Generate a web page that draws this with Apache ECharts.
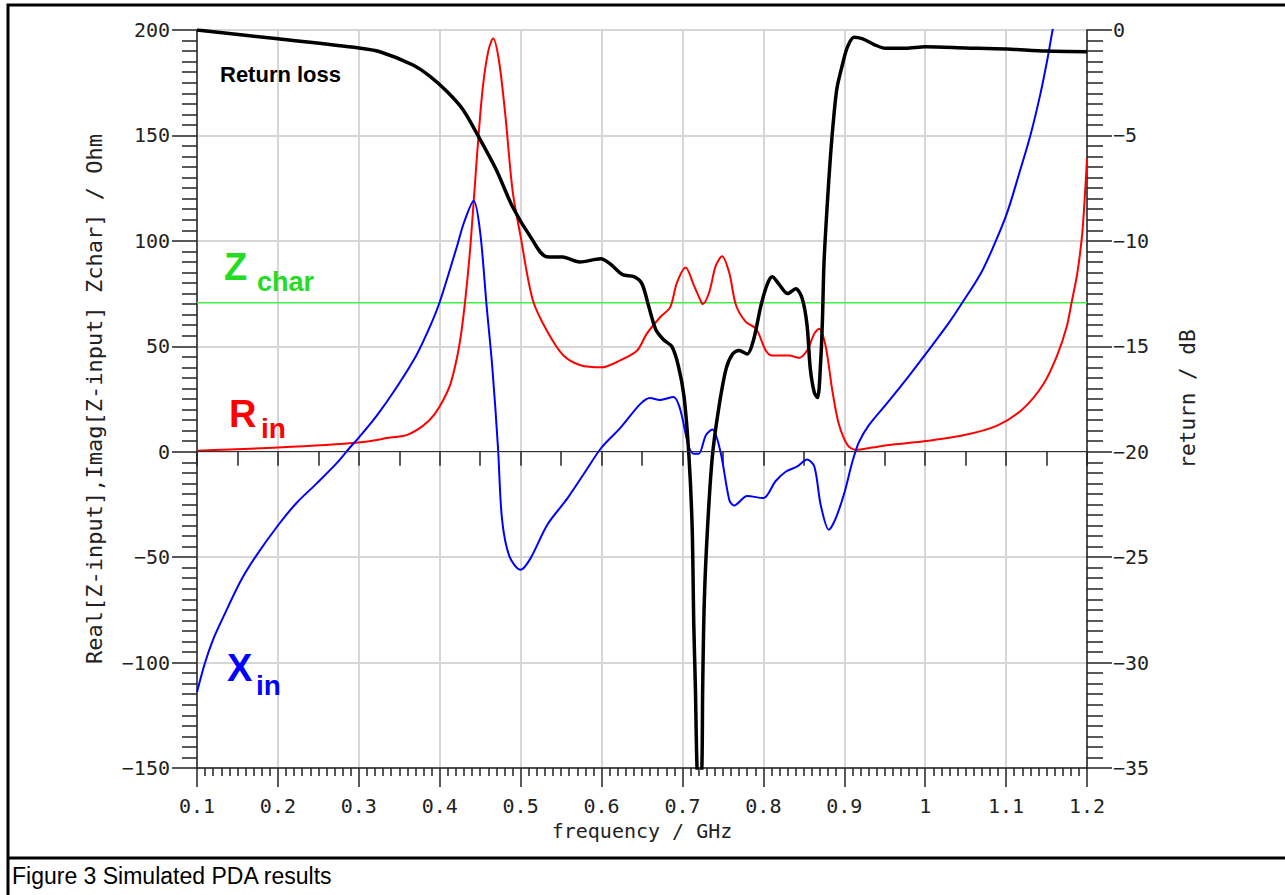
<!DOCTYPE html>
<html>
<head>
<meta charset="utf-8">
<title>Simulated PDA results</title>
<script src="https://cdn.jsdelivr.net/npm/echarts@6/dist/echarts.min.js"></script>
<style>
  html, body { margin: 0; padding: 0; background: #fff; }
  #chart { width: 1285px; height: 895px; }
</style>
</head>
<body>
<div id="chart"></div>
<script>
// characteristic impedance line (Ohm)
const ZCHAR = 70.7

// Xin: imaginary part of input impedance (Ohm), left axis
const xinFreq = [0.1, 0.11, 0.12, 0.133, 0.153, 0.172, 0.2, 0.223, 0.248, 0.273, 0.289, 0.3, 0.322, 0.347, 0.371, 0.388, 0.4, 0.421, 0.43, 0.442, 0.45, 0.458, 0.465, 0.472, 0.477, 0.486, 0.5, 0.512, 0.533, 0.558, 0.578, 0.6, 0.623, 0.648, 0.66, 0.672, 0.689, 0.697, 0.708, 0.714, 0.72, 0.729, 0.737, 0.747, 0.758, 0.764, 0.78, 0.8, 0.815, 0.828, 0.842, 0.854, 0.863, 0.871, 0.881, 0.889, 0.9, 0.91, 0.918, 0.93, 0.955, 0.98, 1.0, 1.029, 1.043, 1.068, 1.084, 1.101, 1.117, 1.13, 1.142, 1.151, 1.157, 1.165]
const xinOhm = [-114, -100, -89, -78, -62, -50, -35, -24.3, -15, -5.3, 2, 6.7, 17, 30.7, 45.6, 59.4, 71, 97, 108.7, 119, 104, 69, 40, 2, -32, -49.5, -56, -50.7, -34.6, -22, -10.6, 2, 11.2, 22.7, 25.5, 24.5, 26, 20.4, 2, -1, -1, 7.8, 10.5, 0, -23, -25.5, -21, -22, -14, -9.4, -7, -3.7, -7, -25.5, -37, -32, -19.7, -4.8, 4.4, 12.4, 24, 36, 46, 61, 69, 84, 97, 113, 133, 150, 169, 186, 199, 215]

// Rin: real part of input impedance (Ohm), left axis
const rinFreq = [0.1, 0.2, 0.3, 0.339, 0.36, 0.38, 0.393, 0.405, 0.414, 0.424, 0.431, 0.438, 0.446, 0.453, 0.46, 0.466, 0.473, 0.481, 0.49, 0.5, 0.515, 0.533, 0.553, 0.574, 0.6, 0.623, 0.644, 0.656, 0.673, 0.685, 0.693, 0.704, 0.714, 0.722, 0.725, 0.733, 0.741, 0.749, 0.758, 0.766, 0.778, 0.791, 0.803, 0.811, 0.832, 0.844, 0.854, 0.863, 0.869, 0.877, 0.885, 0.893, 0.904, 0.914, 0.935, 0.955, 0.996, 1.047, 1.089, 1.121, 1.146, 1.163, 1.175, 1.181, 1.188, 1.194, 1.197, 1.2]
const rinOhm = [0.5, 2, 4.4, 6.7, 8, 12.5, 17.5, 25, 33, 50, 70, 98, 140, 172, 190, 196, 186, 160, 124, 102, 72, 57, 45.6, 41, 40, 43.3, 48, 56, 64, 68.6, 80, 87.4, 79, 72, 70, 75.5, 88, 92.7, 84.6, 69.7, 61.7, 58.3, 48, 45.6, 45.6, 44.5, 48, 56, 58.3, 50, 29.6, 13.5, 3.2, 0.9, 2, 3.2, 4.8, 7.8, 12.4, 20.4, 32, 45.6, 59.4, 70.9, 84.6, 103, 119, 139]

// return loss (dB), right axis
const rlFreq = [0.1, 0.2, 0.3, 0.326, 0.367, 0.388, 0.409, 0.429, 0.45, 0.47, 0.49, 0.512, 0.532, 0.552, 0.573, 0.599, 0.611, 0.626, 0.64, 0.65, 0.658, 0.667, 0.677, 0.687, 0.695, 0.702, 0.708, 0.712, 0.714, 0.716, 0.718, 0.721, 0.724, 0.725, 0.727, 0.731, 0.737, 0.745, 0.754, 0.762, 0.77, 0.78, 0.788, 0.797, 0.805, 0.811, 0.819, 0.83, 0.84, 0.848, 0.854, 0.858, 0.863, 0.867, 0.871, 0.873, 0.875, 0.879, 0.883, 0.887, 0.891, 0.898, 0.904, 0.912, 0.922, 0.937, 0.951, 0.976, 1.0, 1.05, 1.1, 1.15, 1.2]
const rlDb = [0, -0.42, -0.85, -1.03, -1.66, -2.2, -2.92, -3.79, -5.2, -6.64, -8.38, -9.8, -10.75, -10.77, -11.0, -10.85, -11.1, -11.6, -11.7, -12.04, -13.07, -14.2, -14.7, -15.02, -15.94, -17.4, -20.2, -23.6, -28.2, -31.2, -35, -37, -35, -31.2, -27.1, -23.6, -20.2, -17.9, -16.06, -15.37, -15.2, -15.37, -14.68, -13.07, -12.04, -11.7, -12.04, -12.5, -12.27, -12.73, -14, -16.06, -17.2, -17.43, -15.6, -13.76, -11, -8.26, -5.96, -4.13, -2.75, -1.6, -0.8, -0.34, -0.41, -0.69, -0.87, -0.87, -0.8, -0.85, -0.9, -1.0, -1.03]

const zip = (xs, ys) => xs.map((x, i) => [x, ys[i]])

const monoFont = 'DejaVu Sans Mono'
const axisTextColor = '#222'
// reference draws a long minus sign
const fmtNum = v => String(v).replace('-', '\u2212')

const chart = echarts.init(document.getElementById('chart'), null, { renderer: 'svg' })

chart.setOption({
  animation: false,
  backgroundColor: '#fff',
  grid: {
    left: 197, right: 198, top: 30, bottom: 127,
    show: true, borderColor: '#222', borderWidth: 1,
  },
  xAxis: [
    {
      type: 'value', position: 'bottom',
      min: 0.1, max: 1.2, interval: 0.1,
      name: 'frequency / GHz', nameLocation: 'middle', nameGap: 48,
      nameTextStyle: { fontFamily: monoFont, fontSize: 20, color: axisTextColor },
      axisLine: { onZero: false, lineStyle: { color: '#222', width: 1.5 } },
      axisTick: { length: 19, lineStyle: { color: '#222', width: 1.5 } },
      minorTick: { show: true, splitNumber: 10, length: 8, lineStyle: { color: '#222', width: 1.5 } },
      axisLabel: {
        margin: 28, fontFamily: monoFont, fontSize: 20, color: axisTextColor,
        formatter: v => String(Math.round(v * 10) / 10),
      },
      splitLine: { lineStyle: { color: '#d6d6d6', width: 2 } },
    },
    {
      // half-interval ticks (0.05 GHz), drawn over the main axis
      type: 'value', position: 'bottom',
      min: 0.1, max: 1.2, interval: 0.05,
      axisLine: { show: false },
      axisTick: { length: 14, lineStyle: { color: '#222', width: 1.5 } },
      axisLabel: { show: false },
      splitLine: { show: false },
    },
  ],
  yAxis: [
    {
      type: 'value', position: 'left',
      min: -150, max: 200, interval: 50,
      name: 'Real[Z-input],Imag[Z-input] Zchar] / Ohm',
      nameLocation: 'middle', nameGap: 92,
      nameTextStyle: { fontFamily: monoFont, fontSize: 22, color: axisTextColor },
      axisLine: { onZero: false, lineStyle: { color: '#222', width: 1.5 } },
      axisTick: { length: 25, lineStyle: { color: '#222', width: 1.5 } },
      minorTick: { show: true, splitNumber: 10, length: 15, lineStyle: { color: '#222', width: 1.5 } },
      axisLabel: { margin: 27, fontFamily: monoFont, fontSize: 20, color: axisTextColor, formatter: fmtNum },
      splitLine: { lineStyle: { color: '#d6d6d6', width: 2 } },
    },
    {
      type: 'value', position: 'right',
      min: -35, max: 0, interval: 5,
      name: 'return / dB', nameLocation: 'middle', nameGap: 90,
      nameTextStyle: { fontFamily: monoFont, fontSize: 21, color: axisTextColor },
      axisLine: { onZero: false, lineStyle: { color: '#222', width: 1.5 } },
      axisTick: { length: 25, lineStyle: { color: '#222', width: 1.5 } },
      minorTick: { show: true, splitNumber: 10, length: 16, lineStyle: { color: '#222', width: 1.5 } },
      axisLabel: { margin: 26, fontFamily: monoFont, fontSize: 20, color: axisTextColor, formatter: fmtNum },
      splitLine: { show: false },
    },
  ],
  series: [
    {
      name: 'Zchar',
      type: 'line',
      xAxisIndex: 0, yAxisIndex: 0,
      data: [[0.1, ZCHAR], [1.2, ZCHAR]],
      symbol: 'none',
      lineStyle: { color: '#44ee44', width: 1.5 },
      markLine: {
        silent: true, symbol: 'none', label: { show: false },
        lineStyle: { color: '#333', width: 1, type: 'solid' },
        data: [{ yAxis: 0 }],
      },
      z: 2,
    },
    {
      name: 'Rin',
      type: 'line',
      xAxisIndex: 0, yAxisIndex: 0,
      data: zip(rinFreq, rinOhm),
      symbol: 'none', smooth: 0.3,
      lineStyle: { color: '#ff0000', width: 2 },
      z: 3,
    },
    {
      name: 'Xin',
      type: 'line',
      xAxisIndex: 0, yAxisIndex: 0,
      data: zip(xinFreq, xinOhm),
      symbol: 'none', smooth: 0.3,
      lineStyle: { color: '#0000ff', width: 2 },
      z: 3,
    },
    {
      name: 'Return loss',
      type: 'line',
      xAxisIndex: 0, yAxisIndex: 1,
      data: zip(rlFreq, rlDb),
      symbol: 'none', smooth: 0.3,
      lineStyle: { color: '#000', width: 3.5 },
      z: 4,
    },
  ],
  graphic: [
    // figure frame and caption box
    { type: 'rect', shape: { x: 8, y: 5, width: 1290, height: 900 }, style: { fill: 'none', stroke: '#000', lineWidth: 3 }, silent: true },
    { type: 'line', shape: { x1: 8, y1: 858, x2: 1290, y2: 858 }, style: { stroke: '#000', lineWidth: 3 }, silent: true },
    { type: 'text', style: { text: 'Figure 3 Simulated PDA results', x: 12, y: 876, font: '23px "Liberation Sans", Arial', fill: '#000', textVerticalAlign: 'middle' } },
    // curve labels
    { type: 'text', z: 10, style: { text: 'Return loss', x: 220, y: 74, font: 'bold 22px "Liberation Sans", Arial', fill: '#000', textVerticalAlign: 'middle' } },
    { type: 'text', z: 10, style: { text: 'Z', x: 224, y: 267, font: 'bold 38px "Liberation Sans", Arial', fill: '#22dd22', textVerticalAlign: 'middle' } },
    { type: 'text', z: 10, style: { text: 'char', x: 257, y: 282, font: 'bold 27px "Liberation Sans", Arial', fill: '#22dd22', textVerticalAlign: 'middle' } },
    { type: 'text', z: 10, style: { text: 'R', x: 229, y: 414, font: 'bold 38px "Liberation Sans", Arial', fill: '#ff0000', textVerticalAlign: 'middle' } },
    { type: 'text', z: 10, style: { text: 'in', x: 261, y: 428, font: 'bold 28px "Liberation Sans", Arial', fill: '#ff0000', textVerticalAlign: 'middle' } },
    { type: 'text', z: 10, style: { text: 'X', x: 227, y: 668, font: 'bold 38px "Liberation Sans", Arial', fill: '#0000ff', textVerticalAlign: 'middle' } },
    { type: 'text', z: 10, style: { text: 'in', x: 256, y: 685, font: 'bold 28px "Liberation Sans", Arial', fill: '#0000ff', textVerticalAlign: 'middle' } },
  ],
})
</script>
</body>
</html>
